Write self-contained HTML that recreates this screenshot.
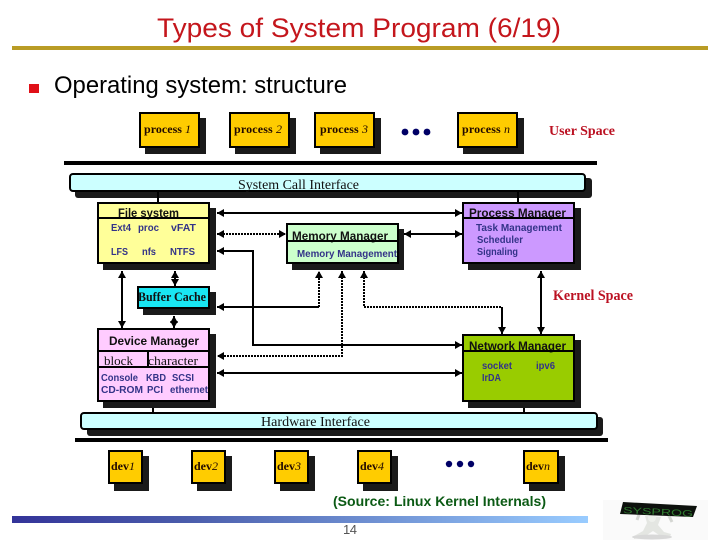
<!DOCTYPE html>
<html>
<head>
<meta charset="utf-8">
<style>
html,body{margin:0;padding:0;background:#fff;width:720px;height:540px;overflow:hidden}
svg{display:block}
.s{font-family:"Liberation Sans",sans-serif}
.r{font-family:"Liberation Serif",serif}
.h{font-family:"Liberation Sans",sans-serif;font-weight:bold;font-size:12px;fill:#111}
.b{font-family:"Liberation Sans",sans-serif;font-weight:bold;font-size:10px;fill:#333388}
.p{font-family:"Liberation Serif",serif;font-size:12px;fill:#220a00}
.p tspan{font-style:italic;font-weight:normal}
.p .k{font-style:normal;font-weight:bold}
.box{stroke:#000;stroke-width:2}
.sh{fill:#1a1a1a}
.l{stroke:#000;stroke-width:2;fill:none}
.d{stroke:#000;stroke-width:2;fill:none;stroke-dasharray:2 1}
</style>
</head>
<body>
<svg width="720" height="540" viewBox="0 0 720 540" xmlns="http://www.w3.org/2000/svg">
<defs>
<marker id="a" markerUnits="userSpaceOnUse" markerWidth="8" markerHeight="8" refX="7" refY="4" orient="auto-start-reverse"><path d="M0 0L7 4L0 8Z" fill="#000"/></marker>
<linearGradient id="g" x1="0" x2="1" y1="0" y2="0"><stop offset="0" stop-color="#333399"/><stop offset=".3" stop-color="#4a5cab"/><stop offset="1" stop-color="#99ccff"/></linearGradient>
</defs>
<rect width="720" height="540" fill="#fff"/>

<text class="s" x="157" y="37" font-size="27" fill="#c4161c" textLength="404" lengthAdjust="spacingAndGlyphs">Types of System Program (6/19)</text>
<rect x="12" y="46" width="696" height="4" fill="#b99c25"/>
<rect x="29" y="84" width="10" height="9" fill="#e01018"/>
<text class="s" x="54" y="93" font-size="24" fill="#000" textLength="293" lengthAdjust="spacingAndGlyphs">Operating system: structure</text>

<!-- process boxes -->
<rect class="sh" x="145" y="118" width="61" height="36"/><rect class="box" x="140" y="113" width="59" height="34" fill="#ffcc00"/>
<rect class="sh" x="235" y="118" width="61" height="36"/><rect class="box" x="230" y="113" width="59" height="34" fill="#ffcc00"/>
<rect class="sh" x="320" y="118" width="61" height="36"/><rect class="box" x="315" y="113" width="59" height="34" fill="#ffcc00"/>
<rect class="sh" x="463" y="118" width="61" height="36"/><rect class="box" x="458" y="113" width="59" height="34" fill="#ffcc00"/>
<text class="p" x="144" y="133" textLength="47"><tspan class="k">process </tspan><tspan>1</tspan></text>
<text class="p" x="234" y="133" textLength="48"><tspan class="k">process </tspan><tspan>2</tspan></text>
<text class="p" x="320" y="133" textLength="48"><tspan class="k">process </tspan><tspan>3</tspan></text>
<text class="p" x="462" y="133" textLength="48"><tspan class="k">process </tspan><tspan>n</tspan></text>
<circle cx="405" cy="132" r="3.4" fill="#000066"/><circle cx="416" cy="132" r="3.4" fill="#000066"/><circle cx="427" cy="132" r="3.4" fill="#000066"/>
<text class="r" x="549" y="135" font-size="14" font-weight="bold" fill="#bb1122" textLength="66" lengthAdjust="spacingAndGlyphs">User Space</text>

<rect x="64" y="161" width="533" height="4" fill="#000"/>
<rect class="sh" x="75" y="178" width="517" height="20" rx="3"/>
<rect class="box" x="70" y="174" width="515" height="17" rx="3" fill="#ccffff"/>
<text class="r" x="238" y="189" font-size="14" fill="#111" textLength="121" lengthAdjust="spacingAndGlyphs">System Call Interface</text>

<line class="l" x1="158" y1="191" x2="158" y2="203"/>
<line class="l" x1="518" y1="191" x2="518" y2="203"/>

<!-- connectors -->
<line class="l" x1="217" y1="213" x2="462" y2="213" marker-start="url(#a)" marker-end="url(#a)"/>
<line class="d" x1="217" y1="234" x2="286" y2="234" marker-start="url(#a)" marker-end="url(#a)"/>
<line class="l" x1="404" y1="234" x2="462" y2="234" marker-start="url(#a)" marker-end="url(#a)"/>
<path class="l" d="M217 251H253V345H462" marker-start="url(#a)" marker-end="url(#a)"/>
<path class="l" d="M217 307H319" marker-start="url(#a)"/>
<path class="d" d="M319 307V271" marker-end="url(#a)"/>
<path class="d" d="M342 271V356H217" marker-start="url(#a)" marker-end="url(#a)"/>
<path class="d" d="M364 271V307H502" marker-start="url(#a)"/>
<path class="l" d="M502 307V334" marker-end="url(#a)"/>
<line class="l" x1="541" y1="271" x2="541" y2="334" marker-start="url(#a)" marker-end="url(#a)"/>
<line class="l" x1="217" y1="373" x2="462" y2="373" marker-start="url(#a)" marker-end="url(#a)"/>
<line class="l" x1="122" y1="271" x2="122" y2="328" marker-start="url(#a)" marker-end="url(#a)"/>
<line class="l" x1="175" y1="271" x2="175" y2="286" marker-start="url(#a)" marker-end="url(#a)" stroke-width="3"/>
<line class="l" x1="174" y1="316" x2="174" y2="328" marker-start="url(#a)" marker-end="url(#a)"/>
<line class="l" x1="153" y1="401" x2="153" y2="412"/>
<line class="l" x1="524" y1="401" x2="524" y2="412"/>

<!-- File system -->
<rect class="sh" x="103" y="208" width="113" height="62"/>
<rect class="box" x="98" y="203" width="111" height="60" fill="#ffff99"/>
<text class="h" x="118" y="217" textLength="61" lengthAdjust="spacingAndGlyphs">File system</text>
<line class="l" x1="98" y1="218" x2="209" y2="218"/>
<text class="b" x="111" y="231" textLength="20" lengthAdjust="spacingAndGlyphs">Ext4</text><text class="b" x="138" y="231" textLength="21" lengthAdjust="spacingAndGlyphs">proc</text><text class="b" x="171" y="231" textLength="25" lengthAdjust="spacingAndGlyphs">vFAT</text>
<text class="b" x="111" y="255" textLength="17" lengthAdjust="spacingAndGlyphs">LFS</text><text class="b" x="142" y="255" textLength="14" lengthAdjust="spacingAndGlyphs">nfs</text><text class="b" x="170" y="255" textLength="25" lengthAdjust="spacingAndGlyphs">NTFS</text>

<!-- Memory Manager -->
<rect class="sh" x="292" y="229" width="112" height="41"/>
<rect class="box" x="287" y="224" width="111" height="39" fill="#ccffcc"/>
<text class="h" x="292" y="240" textLength="96" lengthAdjust="spacingAndGlyphs">Memory Manager</text>
<line class="l" x1="287" y1="241" x2="398" y2="241"/>
<text class="b" x="297" y="257" textLength="100" lengthAdjust="spacingAndGlyphs">Memory Management</text>

<!-- Process Manager -->
<rect class="sh" x="468" y="208" width="113" height="62"/>
<rect class="box" x="463" y="203" width="111" height="60" fill="#cc99ff"/>
<text class="h" x="469" y="217" textLength="97" lengthAdjust="spacingAndGlyphs">Process Manager</text>
<line class="l" x1="463" y1="218" x2="574" y2="218"/>
<text class="b" x="476" y="231" textLength="86" lengthAdjust="spacingAndGlyphs">Task Management</text>
<text class="b" x="477" y="243" textLength="46" lengthAdjust="spacingAndGlyphs">Scheduler</text>
<text class="b" x="477" y="255" textLength="41" lengthAdjust="spacingAndGlyphs">Signaling</text>

<!-- Buffer Cache -->
<rect class="sh" x="143" y="292" width="73" height="23"/>
<rect class="box" x="138" y="287" width="71" height="21" fill="#19e6f2"/>
<text class="r" x="138" y="301" font-size="13" font-weight="bold" fill="#111" textLength="68" lengthAdjust="spacingAndGlyphs">Buffer Cache</text>
<text class="r" x="553" y="300" font-size="15" font-weight="bold" fill="#bb1122" textLength="80" lengthAdjust="spacingAndGlyphs">Kernel Space</text>

<!-- Device Manager -->
<rect class="sh" x="103" y="334" width="113" height="74"/>
<rect class="box" x="98" y="329" width="111" height="72" fill="#ffccff"/>
<line class="l" x1="98" y1="351" x2="209" y2="351"/>
<line class="l" x1="98" y1="367" x2="209" y2="367"/>
<line class="l" x1="148" y1="351" x2="148" y2="367"/>
<text class="h" x="109" y="345" textLength="90" lengthAdjust="spacingAndGlyphs">Device Manager</text>
<text class="r" x="104" y="365" font-size="13" fill="#111" textLength="29" lengthAdjust="spacingAndGlyphs">block</text>
<text class="r" x="148" y="365" font-size="13" fill="#111" textLength="50" lengthAdjust="spacingAndGlyphs">character</text>
<text class="b" x="101" y="381" textLength="37" lengthAdjust="spacingAndGlyphs">Console</text><text class="b" x="146" y="381" textLength="20" lengthAdjust="spacingAndGlyphs">KBD</text><text class="b" x="172" y="381" textLength="22" lengthAdjust="spacingAndGlyphs">SCSI</text>
<text class="b" x="101" y="393" textLength="42" lengthAdjust="spacingAndGlyphs">CD-ROM</text><text class="b" x="147" y="393" textLength="16" lengthAdjust="spacingAndGlyphs">PCI</text><text class="b" x="170" y="393" textLength="38" lengthAdjust="spacingAndGlyphs">ethernet</text>

<!-- Network Manager -->
<rect class="sh" x="468" y="340" width="113" height="68"/>
<rect class="box" x="463" y="335" width="111" height="66" fill="#99cc00"/>
<text class="h" x="469" y="350" textLength="97" lengthAdjust="spacingAndGlyphs">Network Manager</text>
<line class="l" x1="463" y1="351" x2="574" y2="351"/>
<text class="b" x="482" y="369" textLength="30" lengthAdjust="spacingAndGlyphs">socket</text><text class="b" x="536" y="369" textLength="19" lengthAdjust="spacingAndGlyphs">ipv6</text>
<text class="b" x="482" y="381" textLength="19" lengthAdjust="spacingAndGlyphs">IrDA</text>

<!-- Hardware Interface -->
<rect class="sh" x="87" y="417" width="516" height="19" rx="3"/>
<rect class="box" x="81" y="413" width="516" height="16" rx="3" fill="#ccffff"/>
<text class="r" x="261" y="426" font-size="14" fill="#111" textLength="109" lengthAdjust="spacingAndGlyphs">Hardware Interface</text>
<rect x="75" y="438" width="533" height="4" fill="#000"/>

<!-- devices -->
<rect class="sh" x="114" y="456" width="35" height="35"/><rect class="box" x="109" y="451" width="33" height="32" fill="#ffcc00"/>
<rect class="sh" x="197" y="456" width="35" height="35"/><rect class="box" x="192" y="451" width="33" height="32" fill="#ffcc00"/>
<rect class="sh" x="280" y="456" width="35" height="35"/><rect class="box" x="275" y="451" width="33" height="32" fill="#ffcc00"/>
<rect class="sh" x="363" y="456" width="35" height="35"/><rect class="box" x="358" y="451" width="33" height="32" fill="#ffcc00"/>
<rect class="sh" x="529" y="456" width="36" height="35"/><rect class="box" x="524" y="451" width="34" height="32" fill="#ffcc00"/>
<text class="p" x="111" y="470" textLength="24"><tspan class="k">dev</tspan><tspan>1</tspan></text>
<text class="p" x="194" y="470" textLength="24"><tspan class="k">dev</tspan><tspan>2</tspan></text>
<text class="p" x="277" y="470" textLength="24"><tspan class="k">dev</tspan><tspan>3</tspan></text>
<text class="p" x="360" y="470" textLength="24"><tspan class="k">dev</tspan><tspan>4</tspan></text>
<text class="p" x="526" y="470" textLength="24"><tspan class="k">dev</tspan><tspan>n</tspan></text>
<circle cx="449" cy="464" r="3.2" fill="#000066"/><circle cx="460" cy="464" r="3.2" fill="#000066"/><circle cx="471" cy="464" r="3.2" fill="#000066"/>

<text class="s" x="333" y="506" font-size="14" font-weight="bold" fill="#0b5a14" textLength="213" lengthAdjust="spacingAndGlyphs">(Source: Linux Kernel Internals)</text>

<rect x="12" y="516" width="576" height="7" fill="url(#g)"/>
<text class="s" x="343" y="534" font-size="13" fill="#555" textLength="14">14</text>

<!-- logo -->
<rect x="603" y="500" width="105" height="40" fill="#fafafa"/>
<path d="M645 516l16 1-3 8 6 7 7 2-1 3-11-2-6-4-9 6-10 2 0-3 9-5 4-8z" fill="#e4e6e2"/>
<circle cx="652" cy="518" r="4" fill="#eef0ec"/>
<path d="M640 512l-3 8M668 514l4 8" stroke="#d4d6d2" stroke-width="3" fill="none"/>
<ellipse cx="652" cy="537" rx="20" ry="2.5" fill="#d8d8d8"/>
<path d="M623 502L697 506L693 517L620 514Z" fill="#0c100c"/>
<text class="s" x="623" y="513" font-size="9" fill="#2f7a2f" textLength="70" lengthAdjust="spacingAndGlyphs" transform="rotate(3 623 513)">SYSPROG</text>
</svg>
</body>
</html>
